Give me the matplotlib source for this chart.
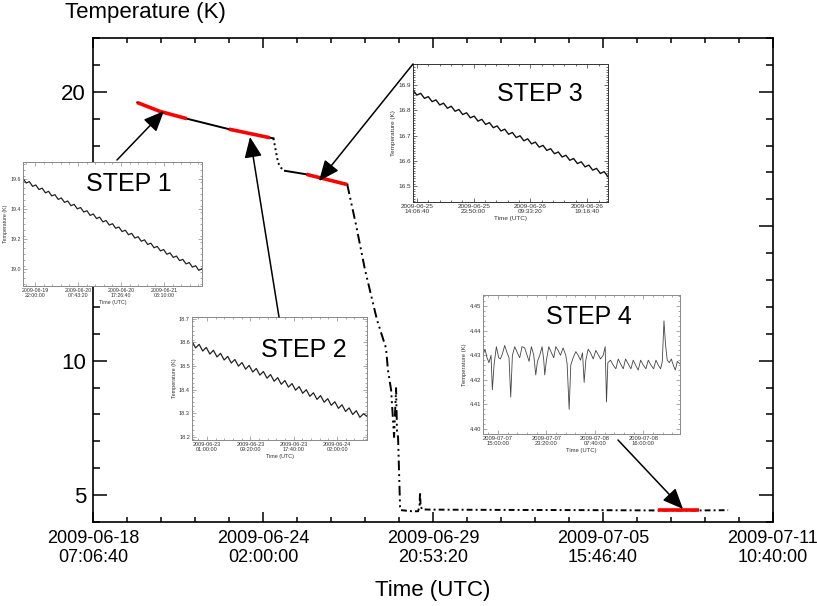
import matplotlib
matplotlib.use('Agg')
import matplotlib.pyplot as plt
import matplotlib.dates as mdates
from matplotlib.patches import FancyArrowPatch
import numpy as np
import pandas as pd

plt.rcParams['font.family'] = ['Liberation Sans', 'DejaVu Sans']

# ---------------- data ----------------
# main curve, split by phase (time UTC, temperature K)
cool_time = ['2009-06-19 19:17', '2009-06-20 13:50', '2009-06-21 11:45',
             '2009-06-22 22:07', '2009-06-23 15:00', '2009-06-24 07:45',
             '2009-06-24 10:30']
cool_temp = [19.60, 19.27, 19.00, 18.61, 18.45, 18.29, 18.27]

drop1_time = ['2009-06-24 10:30', '2009-06-24 14:20', '2009-06-24 16:43',
              '2009-06-24 20:00']
drop1_temp = [18.27, 17.36, 17.17, 17.06]

plateau_time = ['2009-06-24 20:00', '2009-06-25 04:11', '2009-06-25 13:26',
                '2009-06-26 06:00', '2009-06-26 22:51']
plateau_temp = [17.06, 17.00, 16.93, 16.74, 16.55]

drop2_time = ['2009-06-26 22:51', '2009-06-27 06:00', '2009-06-27 13:20',
              '2009-06-27 23:10', '2009-06-28 06:30', '2009-06-28 08:05',
              '2009-06-28 10:40', '2009-06-28 13:05', '2009-06-28 14:43',
              '2009-06-28 15:30', '2009-06-28 16:20', '2009-06-28 17:59',
              '2009-06-28 18:48']
drop2_temp = [16.55, 15.05, 13.38, 11.51, 10.47, 9.65, 8.91, 7.16, 8.98,
              7.30, 7.16, 4.56, 4.44]

base_time = ['2009-06-28 18:48', '2009-06-29 03:45', '2009-06-29 08:42',
             '2009-06-29 09:55', '2009-06-29 10:19', '2009-06-29 10:43',
             '2009-06-29 11:55', '2009-06-29 18:29', '2009-07-02 03:45',
             '2009-07-05 13:21', '2009-07-07 12:25', '2009-07-08 22:19',
             '2009-07-09 22:00']
base_temp = [4.44, 4.40, 4.40, 4.60, 5.10, 4.60, 4.47, 4.46, 4.45, 4.44,
             4.43, 4.43, 4.44]

# highlighted windows (start, end) for the four steps
step_windows = [('2009-06-19 19:17', '2009-06-21 11:45'),
                ('2009-06-22 22:07', '2009-06-24 07:45'),
                ('2009-06-25 13:26', '2009-06-26 22:51'),
                ('2009-07-07 12:25', '2009-07-08 22:19')]
step_names = ['STEP 1', 'STEP 2', 'STEP 3', 'STEP 4']

# inset detail data (evenly sampled over each window)
step1_temp = [19.600, 19.571, 19.580, 19.549, 19.558, 19.528, 19.537, 19.506,
              19.516, 19.486, 19.494, 19.463, 19.472, 19.443, 19.452, 19.421,
              19.430, 19.400, 19.409, 19.379, 19.388, 19.357, 19.366, 19.336,
              19.345, 19.314, 19.323, 19.293, 19.302, 19.272, 19.280, 19.250,
              19.259, 19.229, 19.238, 19.207, 19.216, 19.186, 19.195, 19.165,
              19.173, 19.143, 19.152, 19.122, 19.131, 19.100, 19.109, 19.079,
              19.088, 19.058, 19.066, 19.036, 19.045, 19.015, 19.024, 18.994,
              19.004]
step2_temp = [18.605, 18.577, 18.592, 18.564, 18.579, 18.551, 18.567, 18.539,
              18.554, 18.526, 18.541, 18.513, 18.528, 18.500, 18.515, 18.487,
              18.503, 18.475, 18.490, 18.462, 18.477, 18.449, 18.464, 18.436,
              18.451, 18.423, 18.439, 18.411, 18.426, 18.398, 18.413, 18.385,
              18.400, 18.372, 18.387, 18.359, 18.375, 18.347, 18.362, 18.334,
              18.349, 18.321, 18.336, 18.308, 18.323, 18.295, 18.311, 18.283,
              18.298, 18.288]
step3_temp = [16.880, 16.860, 16.867, 16.847, 16.854, 16.834, 16.841, 16.821,
              16.828, 16.808, 16.816, 16.796, 16.803, 16.783, 16.790, 16.770,
              16.777, 16.757, 16.764, 16.744, 16.751, 16.731, 16.738, 16.718,
              16.725, 16.705, 16.712, 16.692, 16.699, 16.679, 16.687, 16.667,
              16.674, 16.654, 16.661, 16.641, 16.648, 16.628, 16.635, 16.615,
              16.622, 16.602, 16.609, 16.589, 16.596, 16.576, 16.583, 16.563,
              16.570, 16.550, 16.557, 16.537]
# step 4: (hours after window start, temperature)
step4_points = [(0.00, 4.4300), (0.34, 4.4325), (0.69, 4.4290), (1.03, 4.4270),
                (1.38, 4.4300), (1.61, 4.4160), (1.90, 4.4260), (2.30, 4.4335),
                (2.70, 4.4290), (2.99, 4.4285), (3.33, 4.4305), (3.74, 4.4340),
                (4.14, 4.4310), (4.48, 4.4290), (4.77, 4.4130), (5.06, 4.4300),
                (5.46, 4.4335), (5.92, 4.4310), (6.32, 4.4290), (6.72, 4.4335),
                (7.18, 4.4330), (7.59, 4.4300), (7.93, 4.4275), (8.33, 4.4335),
                (8.74, 4.4300), (9.08, 4.4220), (9.37, 4.4275), (9.77, 4.4300),
                (10.17, 4.4335), (10.46, 4.4280), (10.63, 4.4220), (10.92, 4.4280),
                (11.32, 4.4335), (11.78, 4.4310), (12.18, 4.4290), (12.53, 4.4335),
                (12.93, 4.4320), (13.33, 4.4300), (13.79, 4.4330), (14.25, 4.4300),
                (14.48, 4.4265), (14.83, 4.4080), (15.11, 4.4260), (15.52, 4.4290),
                (15.98, 4.4315), (16.38, 4.4300), (16.78, 4.4280), (17.13, 4.4310),
                (17.41, 4.4190), (17.70, 4.4280), (18.10, 4.4325), (18.51, 4.4310),
                (18.97, 4.4285), (19.42, 4.4320), (19.89, 4.4300), (20.23, 4.4285),
                (20.69, 4.4300), (21.03, 4.4335), (21.26, 4.4110), (21.49, 4.4270),
                (21.95, 4.4280), (22.41, 4.4260), (22.87, 4.4245), (23.28, 4.4285),
                (23.68, 4.4265), (24.14, 4.4245), (24.54, 4.4285), (25.00, 4.4265),
                (25.46, 4.4245), (25.86, 4.4280), (26.26, 4.4260), (26.72, 4.4240),
                (27.13, 4.4280), (27.59, 4.4260), (28.04, 4.4245), (28.45, 4.4280),
                (28.91, 4.4260), (29.37, 4.4245), (29.77, 4.4280), (30.17, 4.4260),
                (30.57, 4.4245), (30.86, 4.4275), (31.15, 4.4440), (31.43, 4.4340),
                (31.72, 4.4280), (32.07, 4.4270), (32.41, 4.4285), (32.76, 4.4260),
                (33.10, 4.4240), (33.45, 4.4275), (33.91, 4.4265)]

# ---------------- layout helpers (pixels) ----------------
W, H = 817, 606
fig = plt.figure(figsize=(W / 100, H / 100), dpi=100)


def fx(px):
    return px / W


def fy(py):
    return 1 - py / H


def rect(x0, y0, x1, y1):
    return [fx(x0), fy(y1), fx(x1) - fx(x0), fy(y0) - fy(y1)]


# ---------------- main axes ----------------
ax = fig.add_axes(rect(93, 38, 773, 522))
ts = pd.to_datetime
segments = [(cool_time, cool_temp, '-'),
            (drop1_time, drop1_temp, (0, (1, 1.6))),
            (plateau_time, plateau_temp, '-'),
            (drop2_time, drop2_temp, (0, (5, 2, 1, 2, 1, 2))),
            (base_time, base_temp, (0, (3, 1.6, 1, 1.6)))]
for tt, vv, ls in segments:
    ax.plot(ts(tt), vv, color='black', lw=1.4, ls=ls, zorder=2)

full_t = ts(cool_time + drop1_time + plateau_time + drop2_time + base_time)
full_T = np.array(cool_temp + drop1_temp + plateau_temp + drop2_temp + base_temp)
for a, b in step_windows:
    m = (full_t >= ts(a)) & (full_t <= ts(b))
    ax.plot(full_t[m], full_T[m], color='red', lw=2.6,
            solid_capstyle='butt', zorder=3)

t0 = pd.Timestamp('2009-06-18 07:06:40')
major = [t0 + pd.Timedelta(seconds=500000 * k) for k in range(5)]
minor = [t0 + pd.Timedelta(seconds=100000 * k) for k in range(21)]
ax.set_xlim(major[0], major[-1])
ax.set_xticks(major)
ax.set_xticks(minor, minor=True)
ax.set_xticklabels([d.strftime('%Y-%m-%d\n%H:%M:%S') for d in major],
                   fontsize=13, linespacing=1.1)
ax.set_ylim(4, 22)
ax.set_yticks([5, 10, 15, 20])
ax.set_yticks(np.arange(4, 23, 1), minor=True)
ax.set_yticklabels(['5', '10', '15', '20'], fontsize=16)
for s in ax.spines.values():
    s.set_linewidth(1.2)
ax.tick_params(axis='x', which='major', direction='in', length=7.5, width=1.1,
               top=True, bottom=True, pad=6)
ax.tick_params(axis='x', which='minor', direction='in', length=3.8, width=1.1,
               top=True, bottom=True)
ax.tick_params(axis='y', which='major', direction='in', length=10, width=1.1,
               left=True, right=True, pad=5)
ax.tick_params(axis='y', which='minor', direction='in', length=5, width=1.1,
               left=True, right=True)

fig.text(fx(65), fy(18), 'Temperature (K)', fontsize=16, ha='left', va='baseline')
fig.text(fx(433), fy(596), 'Time (UTC)', fontsize=16, ha='center', va='baseline')


# ---------------- insets ----------------
def make_inset(r, times, temps, ylim, yticks, yminor, yfmt, xstart, xstep,
               fs, frame, lc, lw):
    a = fig.add_axes(rect(*r))
    a.set_facecolor('white')
    a.plot(times, temps, color=lc, lw=lw)
    a.set_xlim(times[0], times[-1])
    a.set_ylim(*ylim)
    a.set_yticks(yticks)
    a.set_yticklabels([yfmt % v for v in yticks])
    a.set_yticks(yminor, minor=True)
    xs = pd.Timestamp(xstart)
    xmaj = [xs + pd.Timedelta(seconds=xstep * k) for k in range(4)]
    xmin = [xs + pd.Timedelta(seconds=xstep / 5 * k) for k in range(-5, 25)]
    xmin = [d for d in xmin if times[0] <= d <= times[-1]]
    a.set_xticks(xmaj)
    a.set_xticklabels([d.strftime('%Y-%m-%d\n%H:%M:%S') for d in xmaj],
                      linespacing=1.0)
    a.set_xticks(xmin, minor=True)
    a.set_xlim(times[0], times[-1])
    for s in a.spines.values():
        s.set_color(frame)
        s.set_linewidth(0.7)
    a.tick_params(which='both', direction='in', top=True, right=True,
                  labelsize=fs, labelcolor='#333333', color=frame, width=0.5,
                  pad=1.5)
    a.tick_params(which='major', length=3)
    a.tick_params(which='minor', length=1.5)
    a.set_xlabel('Time (UTC)', fontsize=fs, color='#333333', labelpad=1.5)
    a.set_ylabel('Temperature (K)', fontsize=fs, color='#333333', labelpad=1.5)
    return a


def window_times(i, n):
    return pd.date_range(ts(step_windows[i][0]), ts(step_windows[i][1]), periods=n)


make_inset((23, 162, 202, 286), window_times(0, len(step1_temp)), step1_temp,
           (18.89, 19.71), [19.0, 19.2, 19.4, 19.6], np.arange(18.90, 19.71, 0.04),
           '%.1f', '2009-06-19 22:00:00', 35000, 3.8, '#888888', '#222222', 0.9)
make_inset((192, 317, 367, 440), window_times(1, len(step2_temp)), step2_temp,
           (18.187, 18.708), [18.2, 18.3, 18.4, 18.5, 18.6, 18.7],
           np.arange(18.19, 18.71, 0.02), '%.1f', '2009-06-23 01:00:00', 30000,
           4.0, '#888888', '#222222', 0.9)
make_inset((413, 64, 608, 202), window_times(2, len(step3_temp)), step3_temp,
           (16.437, 16.983), [16.5, 16.6, 16.7, 16.8, 16.9],
           np.arange(16.44, 16.98, 0.01), '%.1f', '2009-06-25 14:06:40', 35000,
           4.6, '#333333', '#111111', 1.0)
s4_start = ts(step_windows[3][0])
s4_times = [s4_start + pd.Timedelta(hours=h) for h, _ in step4_points]
s4_temps = [v for _, v in step4_points]
make_inset((483, 295, 680, 434), s4_times, s4_temps,
           (4.398, 4.4545), [4.40, 4.41, 4.42, 4.43, 4.44, 4.45],
           np.arange(4.398, 4.455, 0.002), '%.2f', '2009-07-07 15:00:00', 30000,
           4.2, '#888888', '#444444', 0.6)

# STEP labels
for name, (cx, cy) in zip(step_names, [(129, 184), (304, 350), (540, 94), (589, 317)]):
    fig.text(fx(cx), fy(cy), name, fontsize=18, ha='center', va='center')

# arrows
arrows = [((117, 160), (164, 111)), ((279, 317), (250, 137)),
          ((413, 64), (319, 181)), ((618, 440), (683, 509))]
for (x0, y0), (x1, y1) in arrows:
    fig.patches.append(FancyArrowPatch(
        (fx(x0), fy(y0)), (fx(x1), fy(y1)), transform=fig.transFigure,
        arrowstyle='-|>,head_length=0.7,head_width=0.3', mutation_scale=18,
        color='black', lw=1.1, shrinkA=0, shrinkB=0))

fig.savefig('out.png', dpi=100)
